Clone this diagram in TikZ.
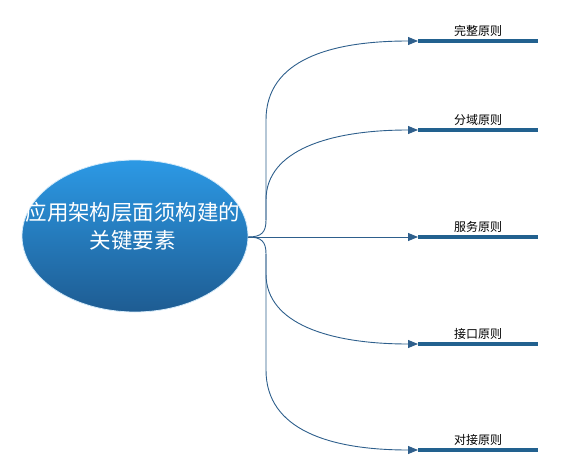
\documentclass[tikz,border=0pt]{standalone}
\usepackage{fontspec}
\setmainfont{Noto Sans CJK SC}
\newfontfamily\cjk{Noto Sans CJK SC}
\usetikzlibrary{arrows.meta,shapes.geometric}
\definecolor{linkc}{HTML}{2E5F8C}
\definecolor{barc}{HTML}{22618F}
\definecolor{topc}{HTML}{2C99E5}
\definecolor{botc}{HTML}{1E5C92}
\tikzset{
  rootnode/.style={ellipse,minimum width=226pt,minimum height=152pt,inner sep=0pt,
    top color=topc,bottom color=botc,draw=white!80!topc,line width=0.8pt},
  roottext/.style={text=white,font=\cjk\fontsize{21.5}{28}\selectfont,align=center,inner sep=0pt},
  link/.style={draw=linkc,line width=0.9pt},
  linkarrow/.style={link,-{Triangle[length=10pt,width=8pt]}},
  bar/.style={draw=barc,line width=3.5pt},
  lbl/.style={font=\cjk\fontsize{12}{14}\selectfont,inner sep=1pt,anchor=base}
}
\begin{document}
\begin{tikzpicture}[x=1pt,y=-1pt]
\useasboundingbox (0,0) rectangle (563,463);
\node[rootnode] (root) at (135,236) {};
\node[roottext] (rootlabel) at (133,226) {应用架构层面须构建的\\关键要素};
\coordinate (hub) at (248,237);
\coordinate (up) at (266,220);
\coordinate (dn) at (266,254);
% tips
\coordinate (t1) at (418,41);
\coordinate (t2) at (418,130);
\coordinate (t3) at (418,237);
\coordinate (t4) at (418,344);
\coordinate (t5) at (418,450);
\coordinate (e1) at (538,41);
\coordinate (e2) at (538,130);
\coordinate (e3) at (538,237);
\coordinate (e4) at (538,344);
\coordinate (e5) at (538,450);
% stems
\draw[link] (hub) .. controls (262,237) and (266,232) .. (up);
\draw[link] (hub) .. controls (262,237) and (266,242) .. (dn);
\draw[linkarrow] (up) -- (266,120) .. controls (266,60) and (330,41) .. (t1);
\draw[linkarrow] (up) -- (266,200) .. controls (266,150) and (330,130) .. (t2);
\draw[linkarrow] (hub) -- (t3);
\draw[linkarrow] (dn) -- (266,274) .. controls (266,324) and (330,344) .. (t4);
\draw[linkarrow] (dn) -- (266,370) .. controls (266,430) and (330,450) .. (t5);
% bars
\draw[bar] (t1) -- (e1);
\draw[bar] (t2) -- (e2);
\draw[bar] (t3) -- (e3);
\draw[bar] (t4) -- (e4);
\draw[bar] (t5) -- (e5);
% labels
\node[lbl] (l1) at (478,35) {完整原则};
\node[lbl] (l2) at (478,124) {分域原则};
\node[lbl] (l3) at (478,231) {服务原则};
\node[lbl] (l4) at (478,338) {接口原则};
\node[lbl] (l5) at (478,444) {对接原则};
\end{tikzpicture}
\end{document}
